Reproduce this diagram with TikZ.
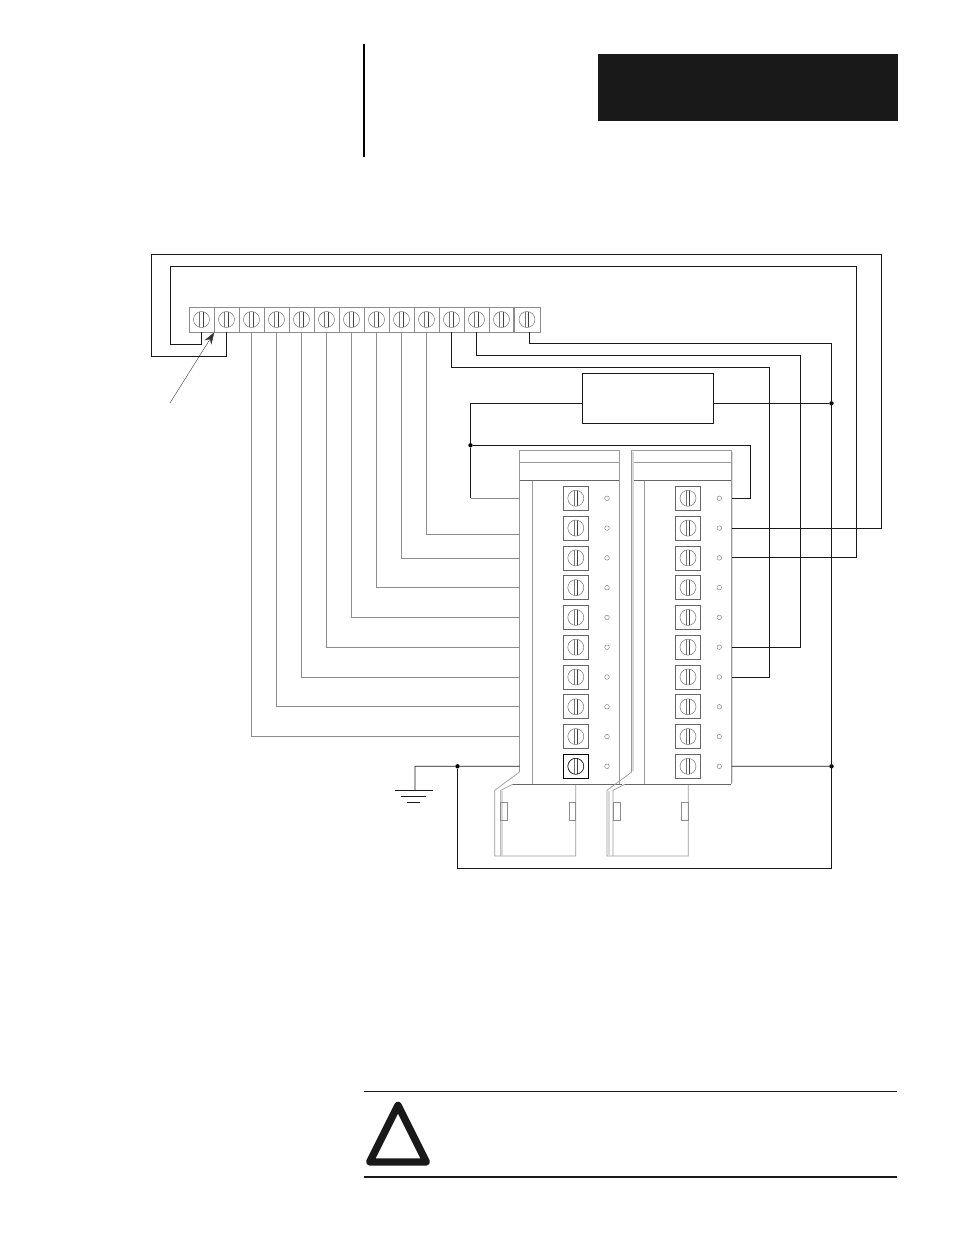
\documentclass[tikz,border=0pt]{standalone}
\usepackage{amsmath,amsfonts,graphicx}
\usepackage{tikz}
\usetikzlibrary{arrows.meta,positioning}

\tikzset{
  wire/.style={line width=0.8pt,black!90},
  lightwire/.style={line width=0.7pt,black!45},
  moduleline/.style={line width=0.7pt,black!40},
  moduledark/.style={line width=0.7pt,black!60},
  screwhead/.style={circle,draw=black!60,line width=0.45pt,minimum size=16pt,inner sep=0pt,
    path picture={
      \draw[black!55,line width=0.45pt] ([xshift=-2pt]path picture bounding box.north) -- ([xshift=-2pt]path picture bounding box.south);
      \draw[black!75,line width=0.45pt] ([xshift=1.6pt]path picture bounding box.north) -- ([xshift=1.6pt]path picture bounding box.south);
    }},
  termcell/.style={rectangle,draw=black!45,line width=0.6pt,minimum width=25pt,minimum height=25pt,inner sep=0pt},
  screwbox/.style={rectangle,draw=black!60,line width=0.7pt,minimum width=25pt,minimum height=24pt,inner sep=0pt},
  holemark/.style={circle,draw=black!55,line width=0.4pt,minimum size=4.6pt,inner sep=0pt},
  junction/.style={circle,fill=black,minimum size=4.4pt,inner sep=0pt},
  tabbox/.style={rectangle,draw=black!45,line width=0.6pt,minimum width=6.8pt,minimum height=18pt,inner sep=0pt},
}

\begin{document}
\begin{tikzpicture}[x=1pt,y=-1pt]
   \useasboundingbox (0,0) rectangle (954,1235);

   % page furniture
   \fill[black!90] (598,54) rectangle (898,121);
   \draw[line width=1.3pt,black] (364,44) -- (364,157);
   \draw[line width=1pt,black!90] (364,1091.5) -- (897,1091.5);
   \draw[line width=1.5pt,black!90] (364,1177) -- (897,1177);
   \draw[line width=7.4pt,line join=round,black!90] (398,1105.4) -- (426.3,1162) -- (369.7,1162) -- cycle;

   % terminal strip
   \foreach \i in {1,...,13}{
     \node[termcell] (t\i) at ({201.5+25*(\i-1)},319.5) {};
     \node[screwhead] (ts\i) at (t\i) {};
   }
   \node[termcell,minimum width=26.5pt] (t14) at (527,319.5) {};
   \node[screwhead] (ts14) at (t14) {};

   % the two modules
   \draw[moduleline] (519.5,772) |- (619,450.7) -- (619,784);
   \draw[moduleline] (519.5,462) -- (619,462);
   \draw[moduledark] (519.5,480.7) -- (619,480.7);
   \draw[moduleline] (532,480.7) -- (532,784);
   \draw[moduleline] (519.5,772) -- (494.7,790.3) -- (494.7,856) -- (575.7,856) -- (575.7,784);
   \draw[moduleline] (500.7,856) -- (500.7,790.3) -- (513.3,784);
   \draw[moduledark] (513.3,784) -- (622,784);
   \draw[moduleline] (631.7,772) |- (731,450.7) -- (731,784);
   \draw[moduleline] (631.7,462) -- (731,462);
   \draw[moduledark] (631.7,480.7) -- (731,480.7);
   \draw[moduleline] (644.3,480.7) -- (644.3,784);
   \draw[moduleline] (631.7,772) -- (607,790.3) -- (607,856) -- (688.3,856) -- (688.3,784);
   \draw[moduleline] (613,856) -- (613,790.3) -- (625.3,784);
   \draw[moduledark] (625.3,784) -- (731,784);
   \draw[black!15,line width=1.4pt] (633,452) -- (633,771);
   \draw[black!15,line width=1.4pt] (732.5,452) -- (732.5,783);
   \draw[black!15,line width=1.4pt] (609,791) -- (609,855);
   \draw[black!15,line width=1.4pt] (501.9,791) -- (501.9,855);

   \node[tabbox] (tab1) at (504,811.3) {};
   \node[tabbox] (tab2) at (572.3,811.3) {};
   \node[tabbox] (tab3) at (616.4,811.3) {};
   \node[tabbox] (tab4) at (684.8,811.3) {};

   \foreach \i in {1,...,10}{
     \node[screwbox] (lb\i) at (575.8,{498.3+29.78*(\i-1)}) {};
     \node[screwhead] (ls\i) at (lb\i) {};
     \node[holemark] (lh\i) at (607,{498.3+29.78*(\i-1)}) {};
     \node[screwbox] (rb\i) at (688,{498.3+29.78*(\i-1)}) {};
     \node[screwhead] (rs\i) at (rb\i) {};
     \node[holemark] (rh\i) at (719.3,{498.3+29.78*(\i-1)}) {};
     \coordinate (la\i) at (519.5,{498.3+29.78*(\i-1)});
     \coordinate (ra\i) at (731.5,{498.3+29.78*(\i-1)});
   }
   \node[screwbox,draw=black] (lb10) at (575.8,766.3) {};
   \node[screwhead,draw=black] (ls10) at (lb10) {};

   % power supply box
   \node[rectangle,draw=black!90,line width=0.8pt,minimum width=131pt,minimum height=50pt,inner sep=0pt] (supply) at (647.6,398.3) {};

   \node[junction] (dotA) at (831.5,403.3) {};
   \node[junction] (dotB) at (470.5,445.3) {};
   \node[junction] (dotC) at (831.5,766.3) {};
   \node[junction] (dotD) at (457.5,766.3) {};

   % wires from the strip to the modules
   \draw[wire] (t1.south) |- (170.5,344.5) |- (856.7,266.5) |- (ra3);
   \draw[wire] (t2.south) |- (151.5,356.5) |- (881.7,254.5) |- (ra2);
   \draw[wire] (t11.south) |- (769.3,367.3) |- (ra7);
   \draw[wire] (t12.south) |- (800.3,355.3) |- (ra6);
   \draw[wire] ([xshift=2.5pt]t14.south) |- (831.5,343.3) |- (457.5,868.5) -- (dotD);
   \draw[wire] (supply.east |- dotA) -- (dotA);
   \draw[wire] (supply.west |- 582,403.3) -| (dotB);
   \draw[wire] (dotB) -- (470.5,498.3);
   \draw[lightwire] (470.5,498.3) -- (la1);
   \draw[wire] (dotB) -| (750.3,498.3) -- (ra1);
   \draw[wire] (ra10) -- (dotC);
   \draw[wire] (la10) -- (dotD) -- (415,766.3) -- (415,790.3);

   \draw[lightwire] (t10.south) |- (519.5,534);
   \draw[lightwire] (t9.south) |- (la3);
   \draw[lightwire] (t8.south) |- (la4);
   \draw[lightwire] (t7.south) |- (la5);
   \draw[lightwire] (t6.south) |- (la6);
   \draw[lightwire] (t5.south) |- (la7);
   \draw[lightwire] (t4.south) |- (la8);
   \draw[lightwire] (t3.south) |- (la9);

   % ground
   \draw[wire] (395,790.3) -- (433,790.3);
   \draw[wire] (401,796.3) -- (426,796.3);
   \draw[wire] (407,802.3) -- (420,802.3);

   % pointer
   \coordinate (pointerstart) at (170,403);
   \draw[-{Stealth[length=12pt,width=8pt]},line width=0.4pt,black!80] (pointerstart) -- (t1.south east);
\end{tikzpicture}
\end{document}
